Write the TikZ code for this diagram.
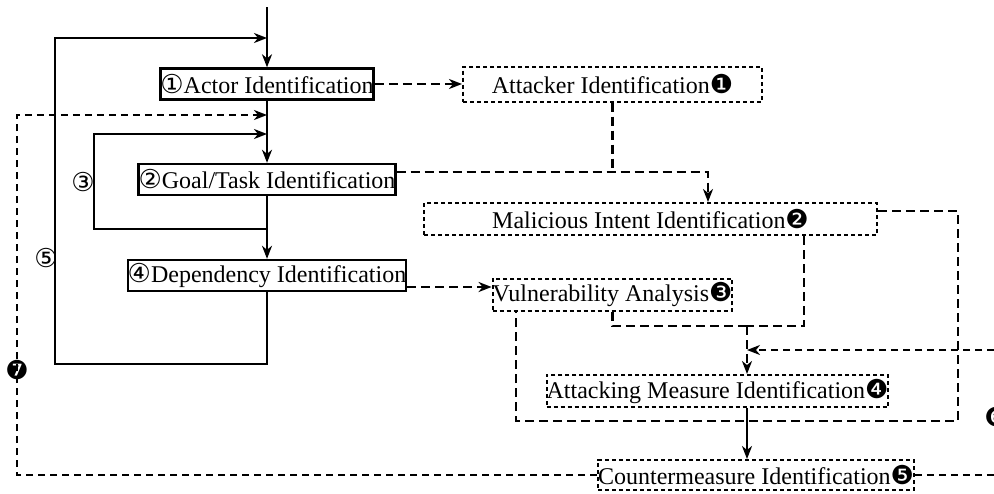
\documentclass[tikz,border=0pt]{standalone}
\usepackage{fontspec}
\setmainfont{Liberation Serif}
\newfontfamily\symfont{DejaVu Sans}
\usetikzlibrary{arrows.meta,calc,positioning}
\newcommand{\cnum}[1]{{\symfont\fontsize{13}{13}\selectfont #1}}

\begin{document}
\begin{tikzpicture}[x=0.5pt,y=-0.5pt,>={Stealth[length=6.5pt,width=5pt,inset=2pt]},
    every node/.style={font=\fontsize{12}{14}\selectfont},
    stagebox/.style={draw,line width=1.2pt,inner xsep=0pt,inner ysep=0pt,minimum height=15.5pt},
    threatbox/.style={draw,line width=1pt,dash pattern=on 2pt off 1.5pt,inner xsep=0pt,inner ysep=0pt,minimum height=16pt},
    flow/.style={line width=1pt},
    link/.style={line width=1.1pt,dash pattern=on 4.5pt off 2.5pt},
    back/.style={line width=1pt,dash pattern=on 3.5pt off 2.5pt}]
    \useasboundingbox (0,0) rectangle (994,493);
    \clip (0,0) rectangle (994,493);

    % modelling stages
    \node[stagebox,minimum width=105pt] (actor) at (267,84) {\cnum{①}Actor Identification};
    \node[stagebox,minimum width=128.5pt] (goal) at (267,179.5) {\cnum{②}Goal/Task Identification};
    \node[stagebox,minimum width=138pt] (dep) at (267,275.5) {\cnum{④}Dependency Identification};

    % attacker analysis
    \node[threatbox,minimum width=149.5pt,minimum height=17.5pt] (attacker) at (612.5,84)
      {Attacker Identification\cnum{❶}};
    \node[threatbox,minimum width=226.5pt] (intent) at (650.5,219)
      {Malicious Intent Identification\cnum{❷}};
    \node[threatbox,minimum width=119.5pt] (vuln) at (612.5,294.5)
      {Vulnerability Analysis\cnum{❸}};
    \node[threatbox,minimum width=168.5pt] (measure) at (717.5,391)
      {Attacking Measure Identification\cnum{❹}};
    \node[threatbox,minimum width=157pt,minimum height=15pt] (counter) at (756,475)
      {Countermeasure Identification\cnum{❺}};

    \node (l3) at (83,182) {\cnum{③}};
    \node (l5) at (46,258) {\cnum{⑤}};
    \node (l7) at (17,370) {\cnum{❼}};
    \node (l6) at (996,417) {\cnum{❻}};

    \coordinate (start) at (267,7);
    \coordinate (in5) at (267,38);
    \coordinate (in7) at (267,115);
    \coordinate (in3) at (267,134);
    \coordinate (out3) at (267,229);
    \coordinate (j1) at (708,172);
    \coordinate (j2) at (747,326);

    % main flow and iterations
    \draw[flow,->] (start) -- (actor.north);
    \draw[flow,->] (actor.south) -- (goal.north);
    \draw[flow,->] (goal.south) -- (dep.north);
    \draw[flow,->] (dep.south) |- (55,364) |- (in5);
    \draw[flow,->] (out3) -- ++(-173,0) |- (in3);
    \draw[back,->] (counter.west) -| (17,115) -- (in7);

    % links to the attacker side
    \draw[link,->] (actor.east) -- (attacker.west);
    \draw[link,->] (goal.east |- j1) -- (j1) -- (j1 |- intent.north);
    \draw[link] (attacker.south) -- (attacker.south |- j1);
    \draw[link,->] (dep.east |- 0,287) -- (vuln.west |- 0,287);
    \draw[link] (804,0 |- intent.south) |- (j2);
    \draw[link] (vuln.south) |- (j2);
    \draw[link,->] (j2) -- (j2 |- measure.north);
    \draw[link] (intent.east |- 0,211) -| (958,421) -| (516,0 |- vuln.south);
    \draw[flow,->] (measure.south -| j2) -- (counter.north -| j2);
    \draw[back,->] (counter.east) -| (1012,350) -- (j2 |- 0,350);
\end{tikzpicture}
\end{document}
